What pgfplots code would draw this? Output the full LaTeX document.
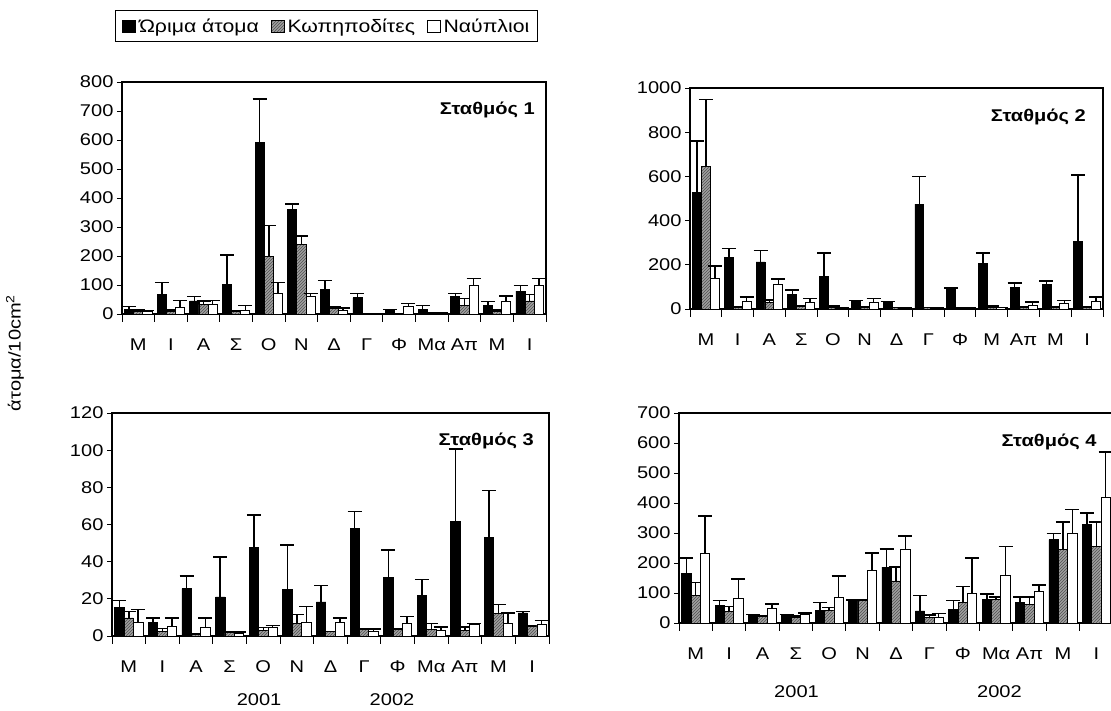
\documentclass[border=0pt]{standalone}
\usepackage{fontspec}
\setmainfont{Liberation Sans}[FakeStretch=1.18]
\usepackage{pgfplots}
\pgfplotsset{compat=1.18}
\usepackage{pgfplotstable}
\usetikzlibrary{patterns}

% station 1
\pgfplotstableread{
x b be g ge w we
1 16 9 10 4 8 4
2 68 40 8 6 24 22
3 45 15 32 12 32 14
4 102 102 8 4 14 16
5 591 150 198 107 71 37
6 362 18 241 28 62 9
7 86 29 20 4 11 10
8 56 15 0 0 0 0
9 11 5 0 0 25 12
10 17 13 4 0 4 0
11 62 9 31 23 98 25
12 31 12 10 3 43 19
13 79 19 45 23 98 25
}\tabA
% station 2
\pgfplotstableread{
x b be g ge w we
1 529 230 647 300 137 58
2 235 38 9 0 35 19
3 213 52 30 10 110 26
4 65 22 14 0 32 15
5 148 105 9 5 5 0
6 36 3 9 0 32 15
7 32 1 6 0 5 0
8 475 124 6 0 5 0
9 90 5 5 0 5 0
10 205 48 6 7 6 0
11 98 20 9 0 17 15
12 110 17 9 0 24 14
13 306 300 9 0 35 19
}\tabB
% station 3
\pgfplotstableread{
x b be g ge w we
1 15.6 3.4 9.7 3.6 7.5 6.7
2 7.5 2.2 2.5 1.5 5.2 4.5
3 25.5 6.7 1.2 0 4.8 4.9
4 21 21.6 1.8 0.3 1.6 0.5
5 47.5 17.5 3 1.5 4.8 0.9
6 25 24 6.6 4.9 7.5 8.5
7 18.3 9 2.5 0 7.5 2.2
8 58 9 3.6 0.2 2.5 1.3
9 31.5 14.7 3.6 0.4 6.6 4
10 22 8.4 3.4 3.2 3 1.8
11 61.5 39.2 3 1.8 6.3 0.3
12 53 25.2 12 5 6.6 5.8
13 12.4 0.9 5.4 0.3 6.1 2.3
}\tabC
% station 4
\pgfplotstableread{
x b be g ge w we
1 164 52 91 44 233 124
2 58 17 38 17 82 64
3 27 2 21 2 47 16
4 24 5 18 5 29 5
5 41 27 41 11 86 71
6 77 0 77 0 175 58
7 186 60 140 46 246 44
8 40 51 18 9 18 14
9 46 29 68 53 99 117
10 77 20 77 9 158 97
11 69 17 62 24 105 22
12 277 22 246 90 297 82
13 327 39 255 81 418 152
}\tabD

\definecolor{hatch}{RGB}{160,160,160}
\definecolor{hatchline}{RGB}{80,80,80}

\tikzset{
  stlab/.style={anchor=north east, font=\bfseries\fontsize{17}{19}\selectfont},
  yearlab/.style={font=\fontsize{17}{19}\selectfont},
}

\pgfplotsset{
  panel/.style={
    scale only axis,
    ybar, bar width=0.28,
    xmin=0.5, xmax=13.5, ymin=0,
    xtick={1,...,13},
    minor xtick={0.5,1.5,...,13.5},
    major x tick style={draw=none},
    minor x tick style={line width=0.9pt, black},
    major y tick style={line width=0.9pt, black},
    major tick length=5pt,
    minor tick length=8pt,
    tick align=outside,
    xtick pos=bottom, ytick pos=left,
    axis line style={line width=1.3pt},
    tick label style={font=\fontsize{17}{19}\selectfont},
    xticklabel style={yshift=-16pt},
    /pgf/number format/assume math mode=true,
    /pgf/number format/1000 sep={},
    clip=false,
  },
  eb/.style={error bars/.cd, y dir=plus, y explicit,
    error bar style={line width=1.5pt, black},
    error mark options={rotate=90, line width=1.5pt, black, mark size=7pt}},
  sb/.style={fill=black, draw=black, line width=0.8pt, bar shift=-0.28},
  sg/.style={fill=hatch, draw=black, line width=0.8pt, bar shift=0,
    postaction={pattern=north east lines, pattern color=hatchline}},
  sw/.style={fill=white, draw=black, line width=0.8pt, bar shift=0.28},
}

\begin{document}
\begin{tikzpicture}
\useasboundingbox (0,0) rectangle (1111pt,711pt);

% Panel 1
\begin{axis}[panel, at={(122pt,397pt)}, anchor=south west,
  width=424pt, height=232pt, ymax=800, ytick={0,100,...,800},
  xticklabels={Μ,Ι,Α,Σ,Ο,Ν,Δ,Γ,Φ,Μα,Απ,Μ,Ι},
  legend columns=3,
  legend style={at={(axis description cs:-0.0165,1.31)}, anchor=north west,
    draw=black, line width=0.8pt, font=\fontsize{18}{20}\selectfont,
    inner xsep=7pt, inner ysep=7pt,
    nodes={inner sep=1pt},
    /tikz/every odd column/.append style={column sep=2pt},
    /tikz/every even column/.append style={column sep=11pt}},
  legend image code/.code={\draw[#1, line width=0.6pt] (0pt,-6pt) rectangle (13pt,6pt);},
  ]
\addplot[sb, eb] table[x=x, y=b, y error=be] {\tabA};
\addplot[sg, eb] table[x=x, y=g, y error=ge] {\tabA};
\addplot[sw, eb] table[x=x, y=w, y error=we] {\tabA};
\legend{Ώριμα άτομα, Κωπηποδίτες, Ναύπλιοι}
\node[stlab] at (rel axis cs:0.982,0.93) {Σταθμός 1};
\end{axis}

% Panel 2
\begin{axis}[panel, at={(690pt,402pt)}, anchor=south west,
  width=413pt, height=221pt, ymax=1000, ytick={0,200,...,1000},
  xticklabels={Μ,Ι,Α,Σ,Ο,Ν,Δ,Γ,Φ,Μ,Απ,Μ,Ι}]
\addplot[sb, eb] table[x=x, y=b, y error=be] {\tabB};
\addplot[sg, eb] table[x=x, y=g, y error=ge] {\tabB};
\addplot[sw, eb] table[x=x, y=w, y error=we] {\tabB};
\node[stlab] at (rel axis cs:0.967,0.923) {Σταθμός 2};
\end{axis}

% Panel 3
\begin{axis}[panel, at={(112pt,75pt)}, anchor=south west,
  width=437pt, height=223pt, ymax=120, ytick={0,20,...,120},
  xticklabels={Μ,Ι,Α,Σ,Ο,Ν,Δ,Γ,Φ,Μα,Απ,Μ,Ι}]
\addplot[sb, eb] table[x=x, y=b, y error=be] {\tabC};
\addplot[sg, eb] table[x=x, y=g, y error=ge] {\tabC};
\addplot[sw, eb] table[x=x, y=w, y error=we] {\tabC};
\node[stlab] at (rel axis cs:0.973,0.928) {Σταθμός 3};
\node[yearlab] at (axis cs:4.875,0) [yshift=-64pt] {2001};
\node[yearlab] at (axis cs:8.83,0) [yshift=-64pt] {2002};
\end{axis}

% Panel 4
\begin{axis}[panel, at={(679pt,88pt)}, anchor=south west,
  width=434pt, height=210pt, ymax=700, ytick={0,100,...,700},
  xticklabels={Μ,Ι,Α,Σ,Ο,Ν,Δ,Γ,Φ,Μα,Απ,Μ,Ι}]
\addplot[sb, eb] table[x=x, y=b, y error=be] {\tabD};
\addplot[sg, eb] table[x=x, y=g, y error=ge] {\tabD};
\addplot[sw, eb] table[x=x, y=w, y error=we] {\tabD};
\node[stlab] at (rel axis cs:0.97,0.919) {Σταθμός 4};
\node[yearlab] at (axis cs:4.02,0) [yshift=-69pt] {2001};
\node[yearlab] at (axis cs:10.1,0) [yshift=-69pt] {2002};
\end{axis}

\node[rotate=90, font=\fontsize{17}{19}\selectfont] at (15pt,358pt) {άτομα/10cm\textsuperscript{2}};
\end{tikzpicture}
\end{document}
